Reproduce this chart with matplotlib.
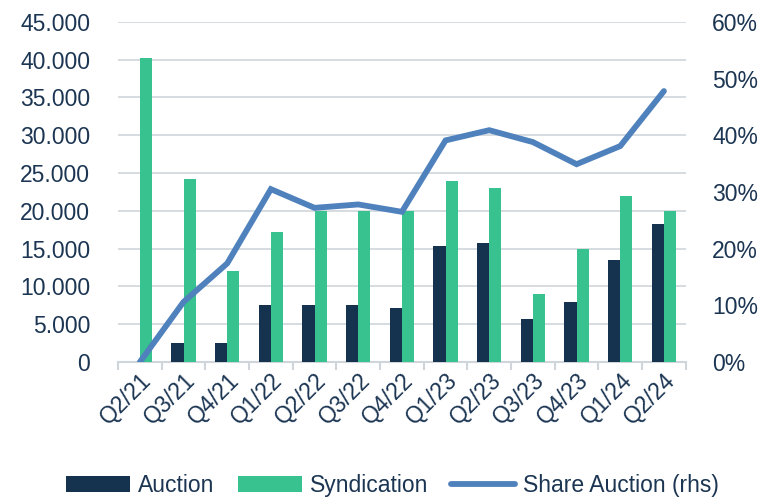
import matplotlib.pyplot as plt
import numpy as np

plt.rcParams['font.family'] = ['Liberation Sans', 'DejaVu Sans']

# data
quarters = ['Q2/21', 'Q3/21', 'Q4/21', 'Q1/22', 'Q2/22', 'Q3/22', 'Q4/22',
            'Q1/23', 'Q2/23', 'Q3/23', 'Q4/23', 'Q1/24', 'Q2/24']
auction = [0, 2500, 2500, 7500, 7500, 7600, 7200, 15400, 15800, 5650, 8000, 13500, 18300]
syndication = [40200, 24200, 12000, 17200, 20000, 20000, 20000, 24000, 23000, 9000, 15000, 22000, 20000]
share_auction = [0, 10.6, 17.4, 30.5, 27.2, 27.8, 26.5, 39.1, 40.9, 38.8, 34.9, 38.1, 47.8]

c_auction = '#15324f'
c_synd = '#38c28f'
c_line = '#4f81bd'
c_text = '#1b3552'
c_grid = '#d0d5dc'

fig = plt.figure(figsize=(7.58, 4.98), dpi=100)
ax = fig.add_axes([0.1557, 0.273, 0.749, 0.683])
ax2 = ax.twinx()

x = np.arange(len(quarters))
w = 0.28
ax.bar(x - w / 2, auction, w, color=c_auction, label='Auction', zorder=3)
ax.bar(x + w / 2, syndication, w, color=c_synd, label='Syndication', zorder=3)
ax2.plot(x, share_auction, color=c_line, lw=4.2, solid_capstyle='round',
         solid_joinstyle='miter', label='Share Auction (rhs)')

ax.set_xlim(-0.5, len(quarters) - 0.5)
ax.set_ylim(0, 45000)
ax2.set_ylim(0, 60)

ax.set_yticks(np.arange(0, 45001, 5000))
ax.set_yticklabels([f'{v:,}'.replace(',', '.') for v in range(0, 45001, 5000)])
ax2.set_yticks(np.arange(0, 61, 10))
ax2.set_yticklabels([f'{v}%' for v in range(0, 61, 10)])

ax.grid(axis='y', color=c_grid, lw=1.2, zorder=0)
ax.set_axisbelow(True)

for a in (ax, ax2):
    for s in ['top', 'left', 'right']:
        a.spines[s].set_visible(False)
ax.spines['bottom'].set_color(c_grid)
ax.spines['bottom'].set_linewidth(1.5)
ax2.spines['bottom'].set_visible(False)

ax.tick_params(axis='y', length=0, pad=20, labelsize=16.5, labelcolor=c_text)
ax2.tick_params(axis='y', length=0, pad=19, labelsize=16.5, labelcolor=c_text)

ax.set_xticks(x)
ax.set_xticklabels(quarters, rotation=45, ha='right', rotation_mode='anchor')
ax.set_xticks(np.arange(-0.5, len(quarters), 1), minor=True)
ax.tick_params(axis='x', which='major', length=0, pad=5, labelsize=16.5, labelcolor=c_text)
ax.tick_params(axis='x', which='minor', length=6, width=1.5, color=c_grid)

h1, l1 = ax.get_legend_handles_labels()
h2, l2 = ax2.get_legend_handles_labels()
leg = fig.legend(h1 + h2, l1 + l2, loc='center', bbox_to_anchor=(0.518, 0.026), ncol=3,
                 frameon=False, fontsize=16.5, handlelength=2.8, handletextpad=0.35,
                 columnspacing=1.0)
for t in leg.get_texts():
    t.set_color(c_text)

plt.savefig('out.png', dpi=100)
